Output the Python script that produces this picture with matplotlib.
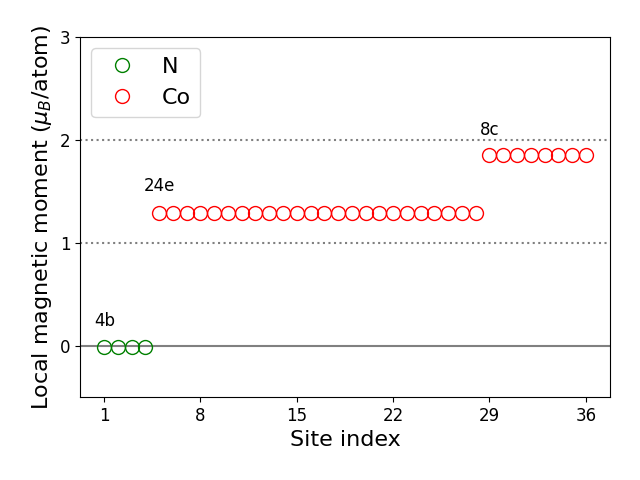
import numpy as np
import matplotlib.pyplot as plt

# site indices and local moments (mu_B/atom)
n_sites = [1, 2, 3, 4]
n_moment = [-0.01, -0.01, -0.01, -0.01]
co_sites = list(range(5, 37))
co_moment = [1.29] * 24 + [1.85] * 8

site_labels = ["4b", "24e", "8c"]
label_pos = [(0.25, 0.19), (3.85, 1.5), (28.3, 2.05)]

fig, ax = plt.subplots(figsize=(6.4, 4.8), dpi=100)
fig.subplots_adjust(left=0.125, right=0.953, bottom=0.173, top=0.923)

ax.axhline(0, color='gray', lw=1.5, zorder=1)
ax.axhline(1, color='gray', lw=1.5, ls=':', zorder=1)
ax.axhline(2, color='gray', lw=1.5, ls=':', zorder=1)

ax.plot(n_sites, n_moment, 'o', mfc='none', mec='green', ms=10, label='N')
ax.plot(co_sites, co_moment, 'o', mfc='none', mec='red', ms=10, label='Co')

for txt, (x, y) in zip(site_labels, label_pos):
    ax.text(x, y, txt, fontsize=12)

ax.set_ylim(-0.5, 3)
ax.set_yticks([0, 1, 2, 3])
ax.set_xticks([1, 8, 15, 22, 29, 36])
ax.tick_params(labelsize=12)
ax.set_xlabel("Site index", fontsize=16)
ax.set_ylabel(r"Local magnetic moment ($\mu_B$/atom)", fontsize=16)
ax.legend(loc='upper left', fontsize=16)

plt.savefig("out.png")
